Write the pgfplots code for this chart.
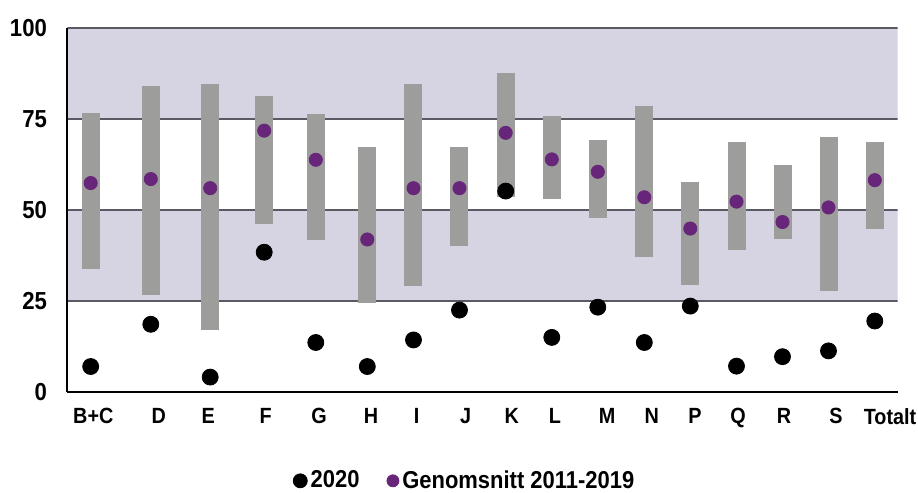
\documentclass[border=0pt]{standalone}
\usepackage{fontspec}
\setmainfont{Liberation Sans}[FakeStretch=0.9]
\usepackage{pgfplots}
\pgfplotsset{compat=1.18}
\definecolor{band}{RGB}{214,212,227}
\definecolor{bargray}{RGB}{157,157,155}
\definecolor{dotpurple}{RGB}{104,38,122}
\definecolor{gridc}{RGB}{90,90,100}
\begin{document}
\begin{tikzpicture}
\path[use as bounding box] (-33.65pt,-50.5pt) rectangle (425.35pt,196pt);
\begin{axis}[
  at={(0,0)}, anchor=south west,
  scale only axis, width=415.2pt, height=182pt,
  xmin=67.3, xmax=897.7, ymin=0, ymax=100,
  axis x line*=bottom, axis y line*=left,
  axis line style={black, line width=1.2pt, -},
  axis on top,
  major tick length=0pt,
  ytick={0,25,50,75,100},
  xtick={93.3,158.7,208.3,265.7,319,371,416.7,465.7,511.7,555,607,651.7,695,738,784,836,890},
  xticklabels={B+C,D,E,F,G,H,I,J,K,L,M,N,P,Q,R,S,Totalt},
  /pgf/number format/assume math mode=true,
  yticklabel style={font=\fontsize{12.3}{14}\selectfont\bfseries, inner sep=0pt, anchor=east, xshift=-10pt},
  xticklabel style={font=\fontsize{11}{13}\selectfont\bfseries, inner sep=0pt, anchor=north, yshift=-8pt},
  unbounded coords=jump,
  legend columns=2,
  legend style={draw=none, fill=none, at={(0.479,-0.244)}, anchor=center,
    font=\fontsize{12.2}{14}\selectfont\bfseries, inner sep=0pt,
    nodes={inner sep=1.5pt},
    /tikz/every even column/.append style={column sep=12pt}},
]
\fill[band] (axis cs:67.3,25) rectangle (axis cs:897.7,50);
\fill[band] (axis cs:67.3,75) rectangle (axis cs:897.7,100);
\draw[gridc, line width=0.6pt] (axis cs:67.3,25) -- (axis cs:897.7,25);
\draw[gridc, line width=0.6pt] (axis cs:67.3,50) -- (axis cs:897.7,50);
\draw[gridc, line width=0.6pt] (axis cs:67.3,75) -- (axis cs:897.7,75);
\draw[gridc, line width=0.6pt] (axis cs:67.3,100) -- (axis cs:897.7,100);
% range bars (min to max, 2011-2019)
\addplot[forget plot, bargray, line width=9pt, line cap=butt] coordinates {
(90.7,33.8) (90.7,76.7) (90.7,nan)
(150.8,26.6) (150.8,84.1) (150.8,nan)
(210.2,17.1) (210.2,84.7) (210.2,nan)
(264.2,46.1) (264.2,81.3) (264.2,nan)
(315.8,41.8) (315.8,76.5) (315.8,nan)
(367.3,24.4) (367.3,67.3) (367.3,nan)
(413.5,29.2) (413.5,84.7) (413.5,nan)
(459.5,40.2) (459.5,67.2) (459.5,nan)
(505.7,53.5) (505.7,87.7) (505.7,nan)
(551.8,53.0) (551.8,75.7) (551.8,nan)
(597.8,47.9) (597.8,69.1) (597.8,nan)
(644.3,37.1) (644.3,78.7) (644.3,nan)
(690.3,29.4) (690.3,57.8) (690.3,nan)
(736.5,39.0) (736.5,68.7) (736.5,nan)
(782.5,42.1) (782.5,62.3) (782.5,nan)
(828.5,27.8) (828.5,70.1) (828.5,nan)
(874.8,44.7) (874.8,68.6)
};
% 2020
\addplot[only marks, mark=*, mark size=4pt, black, mark options={draw=none, fill=black},
  legend image code/.code={\fill[black] (0pt,0pt) circle (3.5pt);}] coordinates {
(90.7,7.0) (150.8,18.6) (210.2,4.1) (264.2,38.4) (315.8,13.6) (367.3,7.0)
(413.5,14.3) (459.5,22.5) (505.7,55.2) (551.8,15.0) (597.8,23.3) (644.3,13.6)
(690.3,23.6) (736.5,7.1) (782.5,9.7) (828.5,11.3) (874.8,19.5)
};
\addlegendentry{2020}
% Genomsnitt 2011-2019
\addplot[only marks, mark=*, mark size=3.3pt, dotpurple, mark options={draw=none, fill=dotpurple},
  legend image code/.code={\fill[dotpurple] (0pt,0pt) circle (3pt);}] coordinates {
(90.7,57.4) (150.8,58.5) (210.2,56.0) (264.2,71.8) (315.8,63.8) (367.3,41.9)
(413.5,56.0) (459.5,56.0) (505.7,71.2) (551.8,63.9) (597.8,60.5) (644.3,53.5)
(690.3,44.9) (736.5,52.3) (782.5,46.7) (828.5,50.7) (874.8,58.2)
};
\addlegendentry{Genomsnitt 2011-2019}
\end{axis}
\end{tikzpicture}
\end{document}
